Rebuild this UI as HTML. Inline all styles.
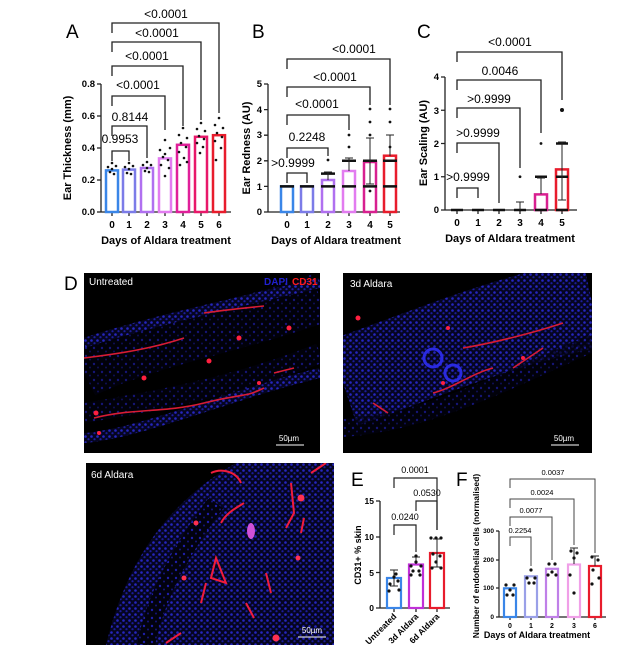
<!DOCTYPE html>
<html><head><meta charset="utf-8"><style>
html,body{margin:0;padding:0;background:#fff}
svg{display:block}
text{font-family:"Liberation Sans",Arial,sans-serif}
</style></head><body>
<svg width="640" height="656" viewBox="0 0 640 656" xmlns="http://www.w3.org/2000/svg">
<defs>
<pattern id="nuc" width="6" height="6" patternUnits="userSpaceOnUse">
<rect width="6" height="6" fill="#050520"/>
<circle cx="1.5" cy="1.5" r="1.3" fill="#2626c0"/><circle cx="4.5" cy="4.2" r="1.1" fill="#1c1c9a"/>
</pattern>
<pattern id="nuc2" width="8" height="8" patternUnits="userSpaceOnUse">
<rect width="8" height="8" fill="#02020e"/>
<circle cx="2" cy="3" r="1.2" fill="#1e1ea8"/><circle cx="6" cy="6.5" r="1" fill="#14147a"/>
</pattern>
</defs>
<rect width="640" height="656" fill="#fff"/>

<!-- ===== A ===== -->
<text x="66" y="38" font-size="19">A</text>
<g stroke="#222" stroke-width="1.3" fill="none">
<line x1="101" y1="84" x2="101" y2="212"/><line x1="101" y1="212" x2="231" y2="212"/>
<line x1="97" y1="84" x2="101" y2="84"/><line x1="97" y1="116" x2="101" y2="116"/><line x1="97" y1="148" x2="101" y2="148"/><line x1="97" y1="180" x2="101" y2="180"/><line x1="97" y1="212" x2="101" y2="212"/>
<path d="M112,212v4M129,212v4M147,212v4M165,212v4M183,212v4M201,212v4M219,212v4"/>
</g>
<g font-size="9.5" text-anchor="end" font-weight="bold"><text x="95" y="87">0.8</text><text x="95" y="119">0.6</text><text x="95" y="151">0.4</text><text x="95" y="183">0.2</text><text x="95" y="215">0.0</text></g>
<g font-size="10" font-weight="bold" text-anchor="middle"><text x="112" y="228">0</text><text x="129" y="228">1</text><text x="147" y="228">2</text><text x="165" y="228">3</text><text x="183" y="228">4</text><text x="201" y="228">5</text><text x="219" y="228">6</text></g>
<text x="166" y="244" font-size="11" font-weight="bold" text-anchor="middle">Days of Aldara treatment</text>
<text transform="translate(71,148) rotate(-90)" font-size="11" font-weight="bold" text-anchor="middle">Ear Thickness (mm)</text>
<g fill="#fff" stroke-width="2.5">
<rect x="106" y="170.4" width="12" height="41.6" stroke="#3a86e8"/>
<rect x="123" y="169.6" width="12" height="42.4" stroke="#7c7ce8"/>
<rect x="141" y="168" width="12" height="44" stroke="#b070f0"/>
<rect x="159" y="158.4" width="12" height="53.6" stroke="#e27cf0"/>
<rect x="177" y="144.8" width="12" height="67.2" stroke="#e0209a"/>
<rect x="195" y="136.8" width="12" height="75.2" stroke="#e8186a"/>
<rect x="213" y="135.2" width="12" height="76.8" stroke="#e81c2c"/>
</g>
<g fill="#111">
<circle cx="108" cy="167" r="1.3"/><circle cx="112" cy="169" r="1.3"/><circle cx="116" cy="166" r="1.3"/><circle cx="110" cy="172" r="1.3"/><circle cx="114" cy="174" r="1.3"/><circle cx="112" cy="163" r="1.3"/>
<circle cx="125" cy="167" r="1.3"/><circle cx="129" cy="169" r="1.3"/><circle cx="133" cy="166" r="1.3"/><circle cx="127" cy="173" r="1.3"/><circle cx="131" cy="174" r="1.3"/><circle cx="129" cy="163" r="1.3"/>
<circle cx="143" cy="165" r="1.3"/><circle cx="147" cy="168" r="1.3"/><circle cx="151" cy="165" r="1.3"/><circle cx="145" cy="171" r="1.3"/><circle cx="149" cy="172" r="1.3"/><circle cx="147" cy="162" r="1.3"/>
<circle cx="165" cy="140" r="1.3"/><circle cx="160" cy="150" r="1.3"/><circle cx="170" cy="148" r="1.3"/><circle cx="163" cy="157" r="1.3"/><circle cx="168" cy="160" r="1.3"/><circle cx="161" cy="165" r="1.3"/><circle cx="169" cy="168" r="1.3"/><circle cx="165" cy="176" r="1.3"/><circle cx="165" cy="154" r="1.3"/>
<circle cx="183" cy="128" r="1.3"/><circle cx="179" cy="135" r="1.3"/><circle cx="187" cy="138" r="1.3"/><circle cx="181" cy="143" r="1.3"/><circle cx="186" cy="147" r="1.3"/><circle cx="179" cy="152" r="1.3"/><circle cx="184" cy="158" r="1.3"/><circle cx="180" cy="165" r="1.3"/><circle cx="187" cy="162" r="1.3"/>
<circle cx="201" cy="123" r="1.3"/><circle cx="197" cy="129" r="1.3"/><circle cx="205" cy="131" r="1.3"/><circle cx="199" cy="136" r="1.3"/><circle cx="204" cy="139" r="1.3"/><circle cx="197" cy="143" r="1.3"/><circle cx="203" cy="147" r="1.3"/><circle cx="200" cy="153" r="1.3"/>
<circle cx="219" cy="118" r="1.3"/><circle cx="215" cy="125" r="1.3"/><circle cx="223" cy="128" r="1.3"/><circle cx="217" cy="133" r="1.3"/><circle cx="222" cy="137" r="1.3"/><circle cx="215" cy="141" r="1.3"/><circle cx="221" cy="148" r="1.3"/><circle cx="216" cy="160" r="1.3"/>
</g>
<g stroke="#222" stroke-width="1.3" fill="none">
<path d="M112,33V23H219V113"/><path d="M112,52V42H201V120"/><path d="M112,76V66H183V126"/><path d="M112,106V96H165V130"/><path d="M112,136V126H147V158"/><path d="M112,161V151H129V161"/>
</g>
<g font-size="12" text-anchor="middle"><text x="166" y="18">&lt;0.0001</text><text x="157" y="37">&lt;0.0001</text><text x="147" y="60">&lt;0.0001</text><text x="138" y="89">&lt;0.0001</text><text x="130" y="121">0.8144</text><text x="120" y="143">0.9953</text></g>

<!-- ===== B ===== -->
<text x="252" y="38" font-size="19">B</text>
<g stroke="#222" stroke-width="1.3" fill="none">
<line x1="268" y1="84" x2="268" y2="212"/><line x1="268" y1="212" x2="400" y2="212"/>
<path d="M264,84h4M264,109.6h4M264,135.2h4M264,160.8h4M264,186.4h4M264,212h4"/>
<path d="M287,212v4M307,212v4M328,212v4M349,212v4M370,212v4M390,212v4"/>
</g>
<g font-size="9.5" font-weight="bold" text-anchor="end"><text x="262" y="87">5</text><text x="262" y="113">4</text><text x="262" y="138">3</text><text x="262" y="164">2</text><text x="262" y="190">1</text><text x="262" y="215">0</text></g>
<g font-size="10" font-weight="bold" text-anchor="middle"><text x="287" y="228">0</text><text x="307" y="228">1</text><text x="328" y="228">2</text><text x="349" y="228">3</text><text x="370" y="228">4</text><text x="390" y="228">5</text></g>
<text x="336" y="244" font-size="11" font-weight="bold" text-anchor="middle">Days of Aldara treatment</text>
<text transform="translate(250,148) rotate(-90)" font-size="11" font-weight="bold" text-anchor="middle">Ear Redness (AU)</text>
<g fill="#fff" stroke-width="2.5">
<rect x="281" y="186.4" width="12" height="25.6" stroke="#3a86e8"/>
<rect x="301" y="186.4" width="12" height="25.6" stroke="#7c7ce8"/>
<rect x="322" y="180" width="12" height="32" stroke="#b070f0"/>
<rect x="343" y="171" width="12" height="41" stroke="#e27cf0"/>
<rect x="364" y="162" width="12" height="50" stroke="#d82090"/>
<rect x="384" y="155.7" width="12" height="56.3" stroke="#e81c2c"/>
</g>
<g stroke="#111" stroke-width="2.5"><path d="M280,186.4h14M300,186.4h14M321,186.4h14M321,173.6h14M342,186.4h14M342,160.8h14M363,186.4h14M363,160.8h14M383,160.8h14M383,186.4h14"/></g>
<g stroke="#222" stroke-width="1"><path d="M328,180v-8M324,172h8M349,171v-13M345,158h8M370,162v-24M366,138h8M370,162v22M366,184h8M390,156v-21M386,135h8"/></g>
<g fill="#111"><circle cx="328" cy="160" r="1.4"/><circle cx="349" cy="135" r="1.4"/><circle cx="349" cy="147" r="1.4"/><circle cx="370" cy="109" r="1.4"/><circle cx="370" cy="122" r="1.4"/><circle cx="370" cy="135" r="1.4"/><circle cx="370" cy="191" r="1.4"/><circle cx="390" cy="109" r="1.4"/><circle cx="390" cy="122" r="1.4"/><circle cx="390" cy="147" r="1.4"/></g>
<g stroke="#222" stroke-width="1.3" fill="none">
<path d="M287,69V59H390V105"/><path d="M287,97V87H370V105"/><path d="M287,125V115H349V130"/><path d="M287,158V148H328V156"/><path d="M287,183V173H307V183"/>
</g>
<g font-size="12" text-anchor="middle"><text x="354" y="53">&lt;0.0001</text><text x="335" y="81">&lt;0.0001</text><text x="317" y="108">&lt;0.0001</text><text x="307" y="141">0.2248</text><text x="293" y="167">&gt;0.9999</text></g>

<!-- ===== C ===== -->
<text x="417" y="38" font-size="19">C</text>
<g stroke="#222" stroke-width="1.3" fill="none">
<line x1="445" y1="77" x2="445" y2="210"/><line x1="445" y1="210" x2="577" y2="210"/>
<path d="M441,77h4M441,110.25h4M441,143.5h4M441,176.75h4M441,210h4"/>
<path d="M457,210v4M478,210v4M499,210v4M520,210v4M541,210v4M562,210v4"/>
</g>
<g font-size="9.5" font-weight="bold" text-anchor="end"><text x="439" y="80">4</text><text x="439" y="114">3</text><text x="439" y="147">2</text><text x="439" y="180">1</text><text x="439" y="213">0</text></g>
<g font-size="10" font-weight="bold" text-anchor="middle"><text x="457" y="226">0</text><text x="478" y="226">1</text><text x="499" y="226">2</text><text x="520" y="226">3</text><text x="541" y="226">4</text><text x="562" y="226">5</text></g>
<text x="510" y="242" font-size="11" font-weight="bold" text-anchor="middle">Days of Aldara treatment</text>
<text transform="translate(427,143) rotate(-90)" font-size="11" font-weight="bold" text-anchor="middle">Ear Scaling (AU)</text>
<g fill="#fff" stroke-width="2.5">
<rect x="535" y="194.4" width="12" height="15.6" stroke="#d82090"/>
<rect x="556" y="169.4" width="12" height="40.6" stroke="#e81c2c"/>
</g>
<g stroke="#111" stroke-width="2.5"><path d="M451,210h12M472,210h12M493,210h12M514,210h12M535,176.75h12M535,210h12M556,143.5h12M556,176.75h12M556,210h12"/></g>
<g stroke="#222" stroke-width="1"><path d="M520,210v-8M516,202h8M541,194v-16M537,178h8M562,170v-28M558,142h8M562,170v30M558,200h8"/></g>
<g fill="#111"><circle cx="520" cy="176.75" r="1.4"/><circle cx="541" cy="143.5" r="1.4"/><circle cx="562" cy="110" r="2"/></g>
<g stroke="#222" stroke-width="1.3" fill="none">
<path d="M457,62V52H562V100"/><path d="M457,90V80H541V133"/><path d="M457,118V108H520V168"/><path d="M457,153V143H499V203"/><path d="M457,198V188H478V198"/>
</g>
<g font-size="12" text-anchor="middle"><text x="510" y="46">&lt;0.0001</text><text x="500" y="75">0.0046</text><text x="489" y="103">&gt;0.9999</text><text x="478" y="137">&gt;0.9999</text><text x="468" y="181">&gt;0.9999</text></g>

<!-- ===== D ===== -->
<text x="64" y="290" font-size="19">D</text>
<svg x="84" y="273" width="236" height="180" viewBox="0 0 236 180">
<rect width="236" height="180" fill="#000"/>
<path d="M0,100 C60,70 150,55 236,25" stroke="url(#nuc2)" stroke-width="50" fill="none" opacity="0.7"/>
<path d="M0,70 C60,50 150,30 236,10" stroke="url(#nuc)" stroke-width="10" fill="none"/>
<path d="M0,165 C60,160 150,120 236,100" stroke="url(#nuc)" stroke-width="10" fill="none"/>
<path d="M0,140 C60,130 150,115 236,80" stroke="url(#nuc2)" stroke-width="20" fill="none" opacity="0.7"/>
<g stroke="#d81c34" stroke-width="1.6" fill="none">
<path d="M10,145 C50,135 80,140 120,130 S160,125 180,115"/><path d="M0,85 C40,80 70,75 100,65"/><path d="M120,40 C140,37 160,35 180,33"/><path d="M190,100 L210,95"/>
</g>
<g fill="#ff2040"><circle cx="12" cy="140" r="2.5"/><circle cx="60" cy="105" r="2.5"/><circle cx="125" cy="88" r="2.5"/><circle cx="155" cy="65" r="2.5"/><circle cx="205" cy="55" r="2.5"/><circle cx="175" cy="110" r="2"/><circle cx="15" cy="160" r="2"/></g>
<text x="5" y="12" font-size="10" fill="#fff">Untreated</text>
<text x="180" y="12" font-size="10" font-weight="bold" fill="#2020d0">DAPI</text><text x="208" y="12" font-size="10" font-weight="bold" fill="#ff1a1a">CD31</text>
<text x="205" y="168" font-size="8" fill="#fff" text-anchor="middle">50µm</text><line x1="192" y1="172" x2="220" y2="172" stroke="#fff" stroke-width="1"/>
</svg>
<svg x="343" y="273" width="249" height="180" viewBox="0 0 249 180">
<rect width="249" height="180" fill="#000"/>
<path d="M0,110 C60,90 150,50 249,30" stroke="url(#nuc)" stroke-width="90" fill="none"/>
<path d="M0,155 C80,150 160,110 249,70" stroke="url(#nuc2)" stroke-width="18" fill="none" opacity="0.7"/>
<g stroke="#d81c34" stroke-width="1.6" fill="none">
<path d="M120,75 C150,70 190,60 220,50"/><path d="M90,120 C110,115 130,100 150,95"/><path d="M170,95 L200,75"/><path d="M30,130 L45,140"/>
</g>
<g fill="#ff2040"><circle cx="15" cy="45" r="2.5"/><circle cx="105" cy="55" r="2"/><circle cx="100" cy="110" r="2"/><circle cx="180" cy="85" r="2"/></g>
<circle cx="90" cy="85" r="9" fill="none" stroke="#2a2ae0" stroke-width="3"/><circle cx="110" cy="100" r="8" fill="none" stroke="#2a2ae0" stroke-width="3"/>
<text x="7" y="14" font-size="10" fill="#fff">3d Aldara</text>
<text x="221" y="168" font-size="8" fill="#fff" text-anchor="middle">50µm</text><line x1="208" y1="172" x2="236" y2="172" stroke="#fff" stroke-width="1"/>
</svg>
<svg x="86" y="463" width="248" height="182" viewBox="0 0 248 182">
<rect width="248" height="182" fill="#000"/>
<path d="M20,182 C40,100 80,40 150,0 L248,0 L248,182 Z" fill="url(#nuc)"/>
<path d="M60,182 C70,130 100,80 130,40" stroke="url(#nuc2)" stroke-width="18" fill="none"/>
<g stroke="#f01c3c" stroke-width="2" fill="none">
<path d="M125,10 C135,5 150,8 155,20"/><path d="M135,60 C140,50 150,45 158,40"/><path d="M130,95 L125,115 L140,120 Z"/><path d="M115,140 L120,120"/><path d="M205,20 L208,50 L200,65"/><path d="M218,55 L215,70"/><path d="M225,10 L240,0"/><path d="M180,110 L185,130"/><path d="M80,180 L95,170"/><path d="M160,140 L168,155"/>
</g>
<g fill="#ff3050"><circle cx="215" cy="35" r="3.5"/><circle cx="110" cy="60" r="2.5"/><circle cx="98" cy="115" r="2.5"/><circle cx="190" cy="175" r="3.5"/><circle cx="212" cy="95" r="2.5"/></g>
<ellipse cx="165" cy="68" rx="4" ry="8" fill="#d050d8"/>
<text x="5" y="15" font-size="10" fill="#fff">6d Aldara</text>
<text x="226" y="170" font-size="8" fill="#fff" text-anchor="middle">50µm</text><line x1="212" y1="174" x2="240" y2="174" stroke="#fff" stroke-width="1"/>
</svg>

<!-- ===== E ===== -->
<text x="351" y="486" font-size="19">E</text>
<g stroke="#222" stroke-width="1.3" fill="none">
<line x1="380" y1="501" x2="380" y2="608"/><line x1="380" y1="608" x2="450" y2="608"/>
<path d="M376,501h4M376,537h4M376,572.5h4M376,608h4M394,608v4M416,608v4M437,608v4"/>
</g>
<g font-size="8.5" font-weight="bold" text-anchor="end"><text x="374" y="504">15</text><text x="374" y="540">10</text><text x="374" y="576">5</text><text x="374" y="611">0</text></g>
<text transform="translate(361,555) rotate(-90)" font-size="9" font-weight="bold" text-anchor="middle">CD31+ % skin</text>
<g fill="#fff" stroke-width="2.2">
<rect x="387" y="578" width="14" height="30" stroke="#3a86e8"/>
<rect x="409" y="564.5" width="14" height="43.5" stroke="#c030d8"/>
<rect x="430" y="553" width="14" height="55" stroke="#e81c2c"/>
</g>
<g stroke="#222" stroke-width="1"><path d="M394,578v-8M390,570h8M394,578v8M390,586h8M416,564v-7M412,557h8M437,553v-14M433,539h8M437,553v14M433,567h8"/></g>
<g fill="#111"><circle cx="390" cy="584" r="1.6"/><circle cx="398" cy="581" r="1.6"/><circle cx="394" cy="577" r="1.6"/><circle cx="389" cy="591" r="1.6"/><circle cx="399" cy="590" r="1.6"/><circle cx="396" cy="574" r="1.6"/>
<circle cx="411" cy="566" r="1.6"/><circle cx="416" cy="562" r="1.6"/><circle cx="421" cy="566" r="1.6"/><circle cx="413" cy="571" r="1.6"/><circle cx="419" cy="571" r="1.6"/><circle cx="416" cy="556" r="1.6"/><circle cx="411" cy="575" r="1.6"/><circle cx="420" cy="575" r="1.6"/>
<circle cx="431" cy="538" r="1.6"/><circle cx="436" cy="538" r="1.6"/><circle cx="441" cy="538" r="1.6"/><circle cx="433" cy="554" r="1.6"/><circle cx="440" cy="556" r="1.6"/><circle cx="436" cy="562" r="1.6"/><circle cx="432" cy="568" r="1.6"/><circle cx="441" cy="568" r="1.6"/></g>
<g stroke="#222" stroke-width="1.2" fill="none"><path d="M394,488V478H437V530"/><path d="M416,511V501H437V530"/><path d="M394,535V525H416V552"/></g>
<g font-size="9" text-anchor="middle"><text x="415" y="473">0.0001</text><text x="427" y="496">0.0530</text><text x="405" y="520">0.0240</text></g>
<g font-size="8.5" font-weight="bold" text-anchor="end"><text transform="translate(397,617) rotate(-45)">Untreated</text><text transform="translate(419,617) rotate(-45)">3d Aldara</text><text transform="translate(440,617) rotate(-45)">6d Aldara</text></g>

<!-- ===== F ===== -->
<text x="456" y="486" font-size="19">F</text>
<g stroke="#222" stroke-width="1.2" fill="none">
<line x1="499" y1="531" x2="499" y2="617"/><line x1="499" y1="617" x2="606" y2="617"/>
<path d="M496,531h3M496,560h3M496,588h3M496,617h3M510,617v3M531,617v3M552,617v3M574,617v3M595,617v3"/>
</g>
<g font-size="6.5" font-weight="bold" text-anchor="end"><text x="494" y="533">300</text><text x="494" y="562">200</text><text x="494" y="590">100</text><text x="494" y="619">0</text></g>
<g font-size="7" font-weight="bold" text-anchor="middle"><text x="510" y="628">0</text><text x="531" y="628">1</text><text x="552" y="628">2</text><text x="574" y="628">3</text><text x="595" y="628">6</text></g>
<text x="537" y="638" font-size="9" font-weight="bold" text-anchor="middle">Days of Aldara treatment</text>
<text transform="translate(479,556) rotate(-90)" font-size="8.5" font-weight="bold" text-anchor="middle">Number of endothelial cells (normalised)</text>
<g fill="#fff" stroke-width="2.2">
<rect x="504" y="588.3" width="12" height="28.7" stroke="#3a86e8"/>
<rect x="525" y="576.3" width="12" height="40.7" stroke="#9aa0e8"/>
<rect x="546" y="568.8" width="12" height="48.2" stroke="#c080e8"/>
<rect x="568" y="564.5" width="12" height="52.5" stroke="#f0a0e8"/>
<rect x="589" y="566" width="12" height="51" stroke="#e81c2c"/>
</g>
<g stroke="#222" stroke-width="1"><path d="M574,564v-16M570,548h8M595,566v-10M591,556h8"/></g>
<g fill="#111"><circle cx="506" cy="585" r="1.6"/><circle cx="514" cy="585" r="1.6"/><circle cx="510" cy="590" r="1.6"/><circle cx="507" cy="595" r="1.6"/><circle cx="513" cy="595" r="1.6"/>
<circle cx="531" cy="570" r="1.6"/><circle cx="527" cy="578" r="1.6"/><circle cx="535" cy="578" r="1.6"/><circle cx="529" cy="583" r="1.6"/><circle cx="534" cy="583" r="1.6"/>
<circle cx="549" cy="564" r="1.6"/><circle cx="555" cy="564" r="1.6"/><circle cx="552" cy="572" r="1.6"/><circle cx="548" cy="575" r="1.6"/><circle cx="556" cy="575" r="1.6"/>
<circle cx="571" cy="551" r="1.6"/><circle cx="577" cy="553" r="1.6"/><circle cx="574" cy="558" r="1.6"/><circle cx="570" cy="575" r="1.6"/><circle cx="574" cy="593" r="1.6"/>
<circle cx="592" cy="557" r="1.6"/><circle cx="598" cy="560" r="1.6"/><circle cx="593" cy="570" r="1.6"/><circle cx="599" cy="578" r="1.6"/><circle cx="592" cy="584" r="1.6"/></g>
<g stroke="#444" stroke-width="1" fill="none"><path d="M510,488V479H595V553"/><path d="M510,508V499H574V545"/><path d="M510,526V517H552V560"/><path d="M510,546V537H531V566"/></g>
<g font-size="7.5" text-anchor="middle"><text x="553" y="475">0.0037</text><text x="542" y="495">0.0024</text><text x="531" y="513">0.0077</text><text x="520" y="533">0.2254</text></g>
</svg>
</body></html>
